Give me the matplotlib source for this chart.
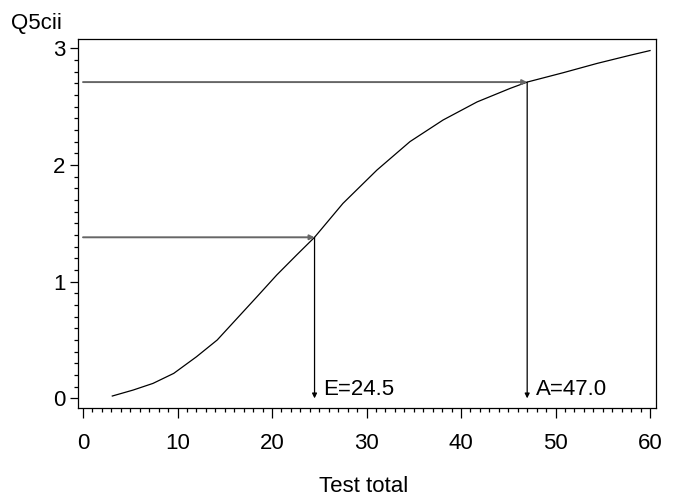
import matplotlib
matplotlib.use("Agg")
import matplotlib.pyplot as plt
from matplotlib.ticker import MultipleLocator

plt.rcParams['font.family'] = ['Liberation Sans', 'DejaVu Sans']

# Curve data
test_total = [3.1, 5.3, 7.4, 9.6, 12.0, 14.2, 16.3, 18.4, 20.5, 22.6, 24.5, 27.5, 31.1,
              34.6, 38.1, 41.7, 45.2, 47.0, 50.8, 54.4, 57.9, 60.0]
q5cii = [0.02, 0.071, 0.128, 0.214, 0.356, 0.50, 0.685, 0.87, 1.057, 1.228, 1.38, 1.67, 1.956,
         2.20, 2.385, 2.54, 2.656, 2.71, 2.79, 2.87, 2.94, 2.98]

# Read-off lines
readoff_labels = ["E=24.5", "A=47.0"]
readoff_x = [24.5, 47.0]
readoff_y = [1.38, 2.71]

fig = plt.figure(figsize=(6.73, 4.97), dpi=100)
ax = fig.add_axes([0.1159, 0.179, 0.9743 - 0.1159, 0.9215 - 0.179])

ax.plot(test_total, q5cii, color='black', lw=0.9, solid_joinstyle='round')

for lab, xv, yv in zip(readoff_labels, readoff_x, readoff_y):
    ax.annotate('', xy=(xv, yv), xytext=(0, yv),
                arrowprops=dict(arrowstyle='-|>', color='#666666', lw=1.4,
                                mutation_scale=7, shrinkA=0, shrinkB=0))
    ax.annotate('', xy=(xv, 0), xytext=(xv, yv),
                arrowprops=dict(arrowstyle='-|>', color='black', lw=0.9,
                                mutation_scale=7, shrinkA=0, shrinkB=0))
    ax.text(xv + 0.9, 0.075, lab, fontsize=16, ha='left', va='center')

ax.set_xlim(-0.53, 60.6)
ax.set_ylim(-0.083, 3.079)
ax.xaxis.set_major_locator(MultipleLocator(10))
ax.xaxis.set_minor_locator(MultipleLocator(1))
ax.yaxis.set_major_locator(MultipleLocator(1))
ax.yaxis.set_minor_locator(MultipleLocator(0.1))
ax.tick_params(axis='x', which='major', length=7, width=0.9, direction='out', pad=11, labelsize=16)
ax.tick_params(axis='x', which='minor', length=3, width=0.9, direction='out')
ax.tick_params(axis='y', which='major', length=6, width=0.9, direction='out', pad=3, labelsize=16)
ax.tick_params(axis='y', which='minor', length=3, width=0.9, direction='out')
for s in ax.spines.values():
    s.set_linewidth(0.9)

fig.text(11 / 673, 1 - 23 / 497, "Q5cii", fontsize=16, ha='left', va='center')
fig.text(364 / 673, 1 - 487 / 497, "Test total", fontsize=16, ha='center', va='center')

fig.savefig("out.png", dpi=100)
